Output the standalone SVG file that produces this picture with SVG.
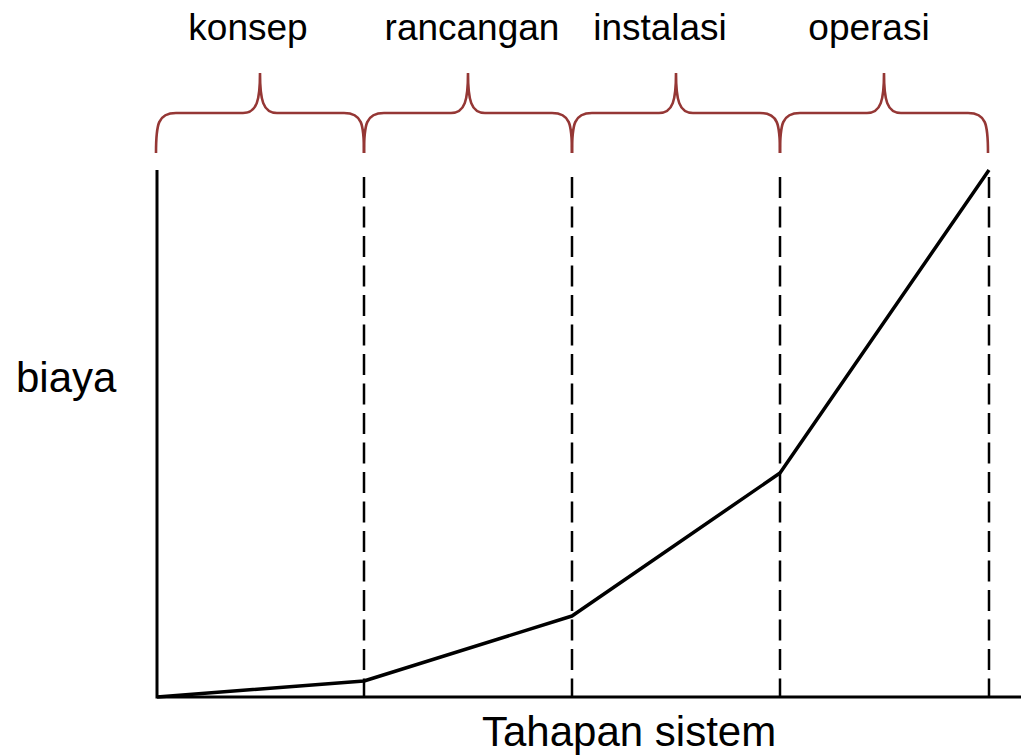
<svg xmlns="http://www.w3.org/2000/svg" width="1021" height="756" viewBox="0 0 1021 756">
<style>
.lbl{font-family:"Liberation Sans",Arial,sans-serif;fill:#000}
.top{font-size:37px;text-anchor:middle}
.big{font-size:42px}
.brace{fill:none;stroke:#953735;stroke-width:2.6;stroke-linecap:butt}
.axis{fill:none;stroke:#000;stroke-width:3}
.dash{fill:none;stroke:#000;stroke-width:2.5;stroke-dasharray:21 8.5}
.curve{fill:none;stroke:#000;stroke-width:3.5;stroke-linejoin:round}
</style>
<rect width="1021" height="756" fill="#fff"/>
<g id="braces">
<path class="brace" d="M156,153 C156,124 158,113 176,113 L243,113 C257,113 260,100 260,73 C260,100 263,113 277,113 L344,113 C362,113 364,124 364,153"/>
<path class="brace" d="M364,153 C364,124 366,113 384,113 L451,113 C465,113 468,100 468,73 C468,100 471,113 485,113 L552,113 C570,113 572,124 572,153"/>
<path class="brace" d="M572,153 C572,124 574,113 592,113 L659,113 C673,113 676,100 676,73 C676,100 679,113 693,113 L760,113 C778,113 780,124 780,153"/>
<path class="brace" d="M780,153 C780,124 782,113 800,113 L867,113 C881,113 884,100 884,73 C884,100 887,113 901,113 L968,113 C986,113 988,124 988,153"/>
</g>
<g id="labels">
<text class="lbl top" x="248" y="40">konsep</text>
<text class="lbl top" x="472" y="40">rancangan</text>
<text class="lbl top" x="660" y="40">instalasi</text>
<text class="lbl top" x="869" y="40">operasi</text>
<text class="lbl big" x="16" y="392">biaya</text>
<text class="lbl big" x="482" y="746">Tahapan sistem</text>
</g>
<g id="connectors">
<path class="axis" d="M157,170 L157,697 L1021,697"/>
<line class="dash" x1="364" y1="177" x2="364" y2="697"/>
<line class="dash" x1="572" y1="177" x2="572" y2="697"/>
<line class="dash" x1="780" y1="177" x2="780" y2="697"/>
<line class="dash" x1="989" y1="177" x2="989" y2="697"/>
<polyline class="curve" points="157,697 364,681 572,616 780,473 989,170"/>
</g>
</svg>
